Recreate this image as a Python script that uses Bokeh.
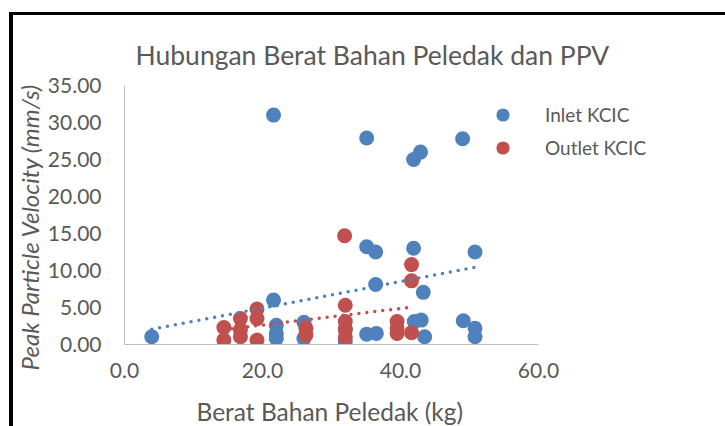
import numpy as np
from bokeh.plotting import figure
from bokeh.layouts import column
from bokeh.models import (FixedTicker, Legend, LegendItem, Range1d, Title,
                          GlobalInlineStyleSheet)
from bokeh.embed import file_html
from bokeh.resources import INLINE

# ---- data ----
inlet_x = [3.95, 21.6, 35.1, 49.0, 42.9, 41.9, 35.1, 36.4, 41.9, 50.8, 36.4, 43.3, 21.6,
           22.0, 22.0, 22.0, 26.0, 26.0, 32.0, 32.0, 35.1, 36.5, 42.0, 43.0, 43.5, 49.1,
           50.8, 50.8]
inlet_y = [1.05, 31.0, 27.9, 27.8, 26.0, 25.0, 13.2, 12.5, 13.0, 12.5, 8.1, 7.05, 6.0,
           2.6, 1.5, 0.8, 3.0, 0.8, 0.4, 2.2, 1.4, 1.5, 3.1, 3.3, 1.05, 3.2,
           2.2, 1.05]
outlet_x = [31.9, 41.6, 41.6, 32.0, 19.2, 19.2, 16.8, 14.4, 14.4, 16.8, 16.8, 19.2, 26.3,
            26.3, 32.0, 32.0, 32.0, 39.5, 39.5, 39.5, 41.6]
outlet_y = [14.7, 10.8, 8.6, 5.3, 4.8, 3.5, 3.5, 2.3, 0.6, 2.0, 1.05, 0.6, 2.2,
            1.3, 3.1, 2.0, 1.0, 3.1, 2.2, 1.5, 1.6]

# linear trendlines as drawn in the reference (slope, intercept)
inlet_trend = [0.179, 1.34]
outlet_trend = [0.112, 0.39]

x_ticks = [0, 20, 40, 60]
x_tick_labels = ["0.0", "20.0", "40.0", "60.0"]
y_ticks = [0, 5, 10, 15, 20, 25, 30, 35]
y_tick_labels = ["0.00", "5.00", "10.00", "15.00", "20.00", "25.00", "30.00", "35.00"]

title_text = "Hubungan Berat Bahan Peledak dan PPV"
x_label = "Berat Bahan Peledak (kg)"
y_label = "Peak Particle Velocity (mm/s)"
series_names = ["Inlet KCIC", "Outlet KCIC"]

BLUE = "#4F81BD"
RED = "#C0504D"
GREY_TEXT = "#595959"
AXIS_GREY = "#BFBFBF"
FONT = "Lato"

# axis spans 0..60 over 414 px; the frame is widened so the legend fits inside it
AXIS_PX = 414
FRAME_PX = 577
x_end = x_ticks[-1] * FRAME_PX / AXIS_PX

fig = figure(frame_width=FRAME_PX, frame_height=259,
             x_range=Range1d(0, x_end), y_range=Range1d(y_ticks[0], y_ticks[-1]),
             output_backend="svg", toolbar_location=None,
             min_border_left=110, min_border_right=25, min_border_top=70,
             min_border_bottom=82)
fig.margin = (3, 0, 0, 4)
fig.styles = {"background-color": "white"}
fig.outline_line_color = None
fig.xgrid.visible = False
fig.ygrid.visible = False

fig.title.text = title_text
fig.title.align = "left"
fig.title.offset = 11
fig.title.text_font = FONT
fig.title.text_font_size = "26.5px"
fig.title.text_font_style = "normal"
fig.title.text_color = GREY_TEXT
fig.title.standoff = 30

for ax in (fig.xaxis[0], fig.yaxis[0]):
    ax.axis_line_color = AXIS_GREY
    ax.axis_line_width = 1
    ax.major_tick_line_color = None
    ax.minor_tick_line_color = None
    ax.major_tick_out = 0
    ax.major_tick_in = 0
    ax.major_label_text_font = FONT
    ax.major_label_text_font_size = "21px"
    ax.major_label_text_color = GREY_TEXT

xa = fig.xaxis[0]
ya = fig.yaxis[0]
xa.bounds = (x_ticks[0], x_ticks[-1])
xa.ticker = FixedTicker(ticks=x_ticks)
xa.major_label_overrides = dict(zip(x_ticks, x_tick_labels))
ya.ticker = FixedTicker(ticks=y_ticks)
ya.major_label_overrides = dict(zip(y_ticks, y_tick_labels))
xa.major_label_standoff = 18
ya.major_label_standoff = 23

# axis titles as panels (so they can sit where the reference puts them)
yt = Title(text=y_label, align="left", offset=-26, vertical_align="middle",
           standoff=0, text_font=FONT, text_font_size="24px",
           text_font_style="italic", text_color=GREY_TEXT)
fig.add_layout(yt, "left")
xt = Title(text=x_label, align="left", offset=72, vertical_align="top",
           standoff=32, text_font=FONT, text_font_size="24.5px",
           text_font_style="normal", text_color=GREY_TEXT)
fig.add_layout(xt, "below")

def trend(xs, coef):
    xs = np.asarray(xs)
    tx = np.array([xs.min(), xs.max()])
    return tx, coef[0] * tx + coef[1]

tix, tiy = trend(inlet_x, inlet_trend)
tox, toy = trend(outlet_x, outlet_trend)

r_in = fig.scatter(inlet_x, inlet_y, size=15, color=BLUE, line_color=None)
r_out = fig.scatter(outlet_x, outlet_y, size=15, color=RED, line_color=None)
fig.line(tix, tiy, line_color=BLUE, line_width=3.5, line_dash="0 8", line_cap="round")
fig.line(tox, toy, line_color=RED, line_width=3.5, line_dash="0 8", line_cap="round")

legend = Legend(items=[LegendItem(label=series_names[0], renderers=[r_in]),
                       LegendItem(label=series_names[1], renderers=[r_out])],
                location=(362, 180), padding=0, margin=0, spacing=0,
                glyph_width=33, glyph_height=33, label_standoff=26,
                label_text_font=FONT, label_text_font_size="19px",
                label_text_color=GREY_TEXT, border_line_color=None,
                background_fill_alpha=0)
fig.add_layout(legend, "center")

page_css = GlobalInlineStyleSheet(css="html, body { overflow: hidden; }")
p = column(fig, margin=(12, 0, 0, 9), styles={"background-color": "black"},
           stylesheets=[page_css])

open("out.html", "w").write(file_html(p, INLINE))
